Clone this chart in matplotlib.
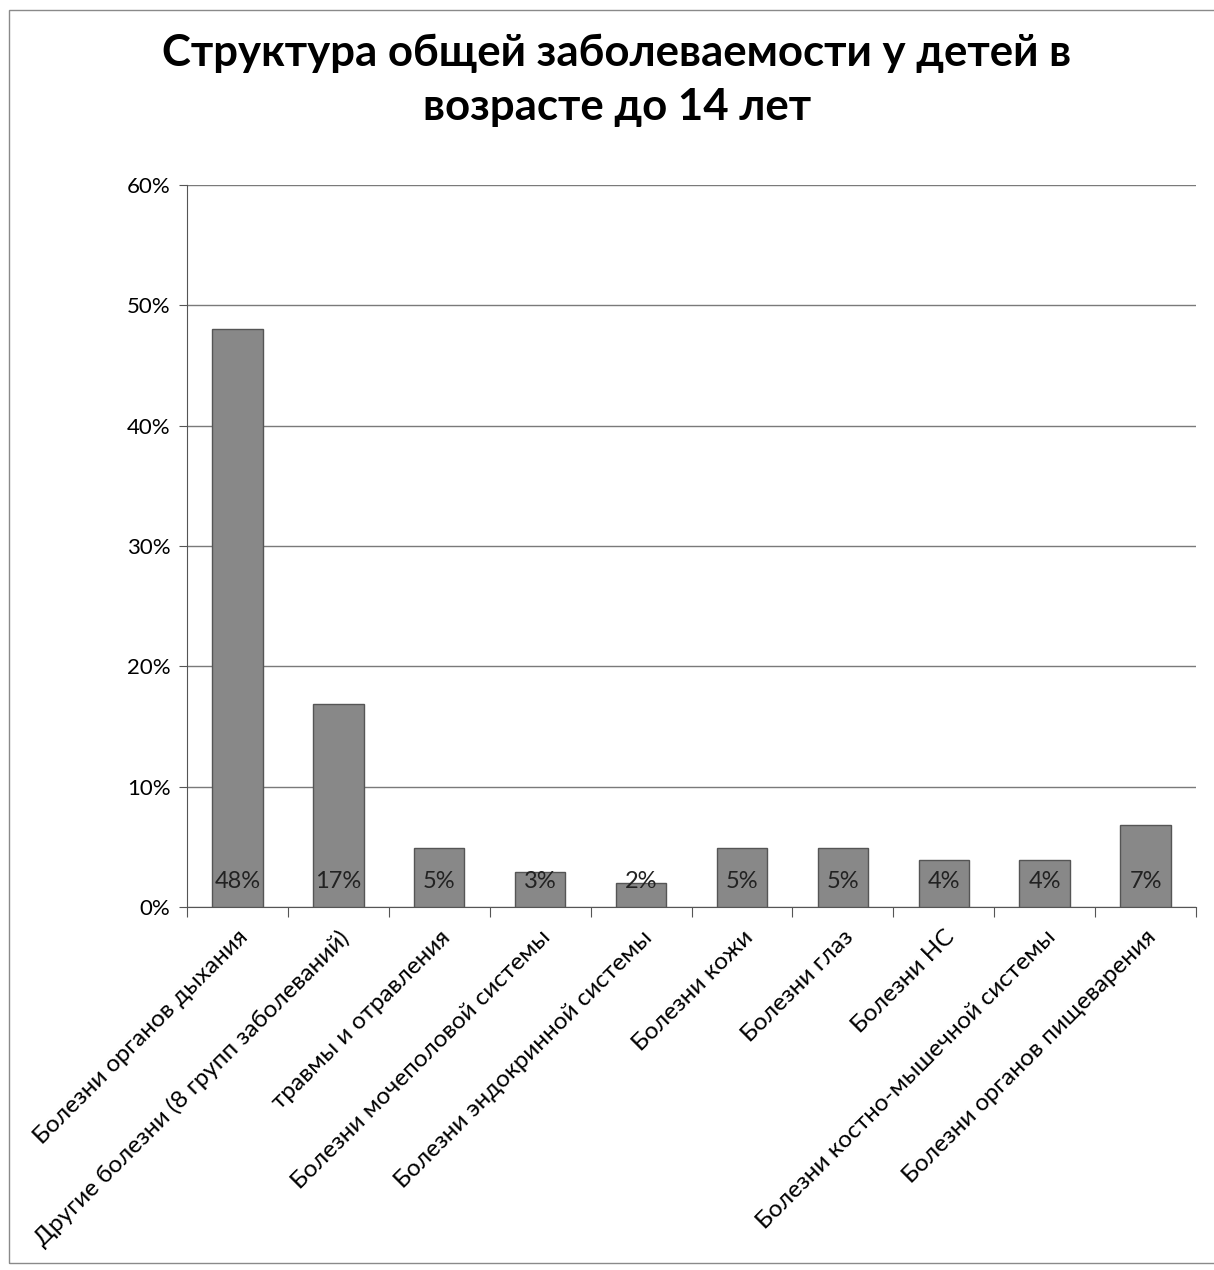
import matplotlib.pyplot as plt
from matplotlib.patches import Rectangle
from matplotlib.ticker import PercentFormatter

categories = [
    "Болезни органов дыхания",
    "Другие болезни (8 групп заболеваний)",
    "травмы и отравления",
    "Болезни мочеполовой системы",
    "Болезни эндокринной системы",
    "Болезни кожи",
    "Болезни глаз",
    "Болезни НС",
    "Болезни костно-мышечной системы",
    "Болезни органов пищеварения",
]
values = [48.0, 16.9, 4.9, 2.9, 2.0, 4.9, 4.9, 3.9, 3.9, 6.8]
value_labels = ["48%", "17%", "5%", "3%", "2%", "5%", "5%", "4%", "4%", "7%"]
yticks = [0, 10, 20, 30, 40, 50, 60]

title = "Структура общей заболеваемости у детей в\nвозрасте до 14 лет"

plt.rcParams["font.family"] = ["Lato", "DejaVu Sans"]

fig = plt.figure(figsize=(12.14, 12.7), dpi=100)
ax = fig.add_axes([187 / 1214, 1 - 907 / 1270, 1009 / 1214, 722 / 1270])

x = list(range(len(categories)))
ax.bar(x, values, width=0.5, color="#888888", edgecolor="#555555",
       linewidth=1.0, zorder=3)

for xi, lab in zip(x, value_labels):
    ax.text(xi, 2.1, lab, ha="center", va="center", fontsize=17,
            color="#222222", zorder=4)

ax.set_xlim(-0.5, len(categories) - 0.5)
ax.set_ylim(0, 60)
ax.set_yticks(yticks)
ax.yaxis.set_major_formatter(PercentFormatter(decimals=0))
ax.tick_params(axis="y", labelsize=16, length=6, direction="out",
               color="#555555", pad=6)
ax.grid(axis="y", color="#7a7a7a", linewidth=1.0, zorder=0)

ax.set_xticks([i - 0.5 for i in range(len(categories) + 1)], minor=False)
ax.set_xticklabels([])
ax.tick_params(axis="x", length=7, direction="out", color="#555555")
ax.set_xticks(x, minor=True)
ax.set_xticklabels(categories, minor=True, rotation=45, ha="right",
                   rotation_mode="anchor", fontsize=17.5)
ax.tick_params(axis="x", which="minor", length=0, pad=14)

for side in ["top", "right"]:
    ax.spines[side].set_visible(False)
ax.spines["left"].set_color("#555555")
ax.spines["bottom"].set_color("#555555")

fig.text(0.508, 1 - 80 / 1270, title, ha="center", va="center",
         fontsize=31.5, fontweight="bold", linespacing=1.4)

fig.patches.append(Rectangle((9 / 1214, 1 - 1263 / 1270), 1.0, 1253 / 1270,
                             transform=fig.transFigure, fill=False,
                             edgecolor="#8a8a8a", linewidth=1.0))

fig.savefig("out.png", dpi=100)
